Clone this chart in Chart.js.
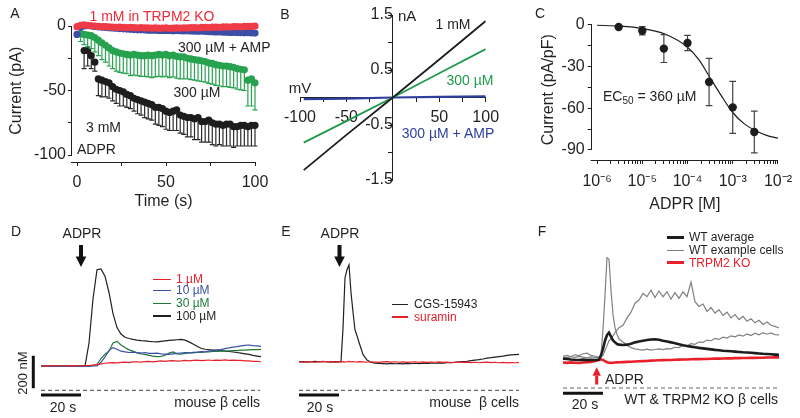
<!DOCTYPE html>
<html>
<head>
<meta charset="utf-8">
<script src="https://cdn.jsdelivr.net/npm/chart.js@4.4.1/dist/chart.umd.min.js"></script>
<style>
  body { margin: 0; background: #fff; }
  #fig { position: relative; width: 800px; height: 418px; overflow: hidden;
         font-family: 'Liberation Sans', Arial, sans-serif; color: #231f20; }
  #fig canvas { position: absolute; left: 0; top: 0; }
  .t { position: absolute; white-space: pre; line-height: 1; font-size: 14px; }
  .c { transform: translate(-50%, -50%); }
  .l { transform: translate(0, -50%); }
  .r { transform: translate(-100%, -50%); }
  .lg { font-size: 12px; }
  .sw { position: absolute; height: 1.5px; }
</style>
</head>
<body>
<div id="fig">
  <canvas id="cA" width="800" height="418"></canvas>
  <canvas id="cB" width="800" height="418"></canvas>
  <canvas id="cC" width="800" height="418"></canvas>
  <canvas id="cD" width="800" height="418"></canvas>
  <canvas id="cE" width="800" height="418"></canvas>
  <canvas id="cF" width="800" height="418"></canvas>

  <!-- panel letters -->
  <div class="t c" style="left:15px;top:13px">A</div>
  <div class="t c" style="left:285px;top:14px">B</div>
  <div class="t c" style="left:540px;top:13px">C</div>
  <div class="t c" style="left:16px;top:231px">D</div>
  <div class="t c" style="left:286px;top:231px">E</div>
  <div class="t c" style="left:542px;top:231px">F</div>

  <!-- A -->
  <div class="t c" style="left:152px;top:16px;color:#ee2a36">1 mM in TRPM2 KO</div>
  <div class="t l" style="left:178px;top:47px">300 µM + AMP</div>
  <div class="t c" style="left:197px;top:92px">300 µM</div>
  <div class="t l" style="left:86px;top:127px">3 mM</div>
  <div class="t l" style="left:77px;top:149px">ADPR</div>

  <!-- B -->
  <div class="t l" style="left:398px;top:15px;font-size:15px">nA</div>
  <div class="t c" style="left:300px;top:87px;font-size:15px">mV</div>
  <div class="t c" style="left:453px;top:24px">1 mM</div>
  <div class="t c" style="left:470px;top:80px;color:#1f9a4c">300 µM</div>
  <div class="t c" style="left:448px;top:133px;color:#2f3f9e">300 µM + AMP</div>

  <!-- C -->
  <div class="t l" style="left:603px;top:97px">EC<span style="font-size:10px;vertical-align:-3px">50</span> = 360 µM</div>

  <!-- D -->
  <div class="t c" style="left:82px;top:233px">ADPR</div>
  <div class="sw" style="left:153px;top:278.5px;width:18px;background:#e8202a"></div>
  <div class="sw" style="left:153px;top:289.5px;width:18px;background:#3a50a5"></div>
  <div class="sw" style="left:153px;top:302.5px;width:18px;background:#1e7a3c"></div>
  <div class="sw" style="left:153px;top:315px;width:18px;background:#231f20"></div>
  <div class="t l lg" style="left:176px;top:279px;color:#e8202a">1 µM</div>
  <div class="t l lg" style="left:176px;top:290px;color:#3a50a5">10 µM</div>
  <div class="t l lg" style="left:176px;top:303px;color:#1e7a3c">30 µM</div>
  <div class="t l lg" style="left:176px;top:315.5px">100 µM</div>
  <div class="t c" style="left:22px;top:373px;font-size:13px;transform:translate(-50%,-50%) rotate(-90deg)">200 nM</div>
  <div class="t c" style="left:63px;top:407px">20 s</div>
  <div class="t r" style="left:260px;top:402px">mouse β cells</div>

  <!-- E -->
  <div class="t c" style="left:340px;top:233px">ADPR</div>
  <div class="sw" style="left:392px;top:303.5px;width:16px;background:#231f20"></div>
  <div class="sw" style="left:392px;top:316px;width:16px;background:#e8202a"></div>
  <div class="t l lg" style="left:414px;top:304px">CGS-15943</div>
  <div class="t l lg" style="left:414px;top:317px;color:#e8202a">suramin</div>
  <div class="t c" style="left:320px;top:407px">20 s</div>
  <div class="t r" style="left:519px;top:402px">mouse  β cells</div>

  <!-- F -->
  <div class="sw" style="left:667px;top:235.5px;width:17px;height:3px;background:#1d1d1d"></div>
  <div class="sw" style="left:667px;top:249.5px;width:17px;background:#808080"></div>
  <div class="sw" style="left:667px;top:261px;width:17px;height:3px;background:#e8202a"></div>
  <div class="t l lg" style="left:689px;top:237px">WT average</div>
  <div class="t l lg" style="left:689px;top:250px">WT example cells</div>
  <div class="t l lg" style="left:689px;top:262.5px;color:#e8202a">TRPM2 KO</div>
  <div class="t l" style="left:605px;top:379px">ADPR</div>
  <div class="t c" style="left:585px;top:404px">20 s</div>
  <div class="t r" style="left:778px;top:399px">WT &amp; TRPM2 KO β cells</div>
</div>

<script>
// ---- A: current vs time (pA) ----
const tA = [0, 2, 4, 6, 8, 10, 12, 14, 16, 18, 20, 22, 24, 26, 28, 30, 32, 34, 36, 38,
  40, 42, 44, 46, 48, 50, 52, 54, 56, 58, 60, 62, 64, 66, 68, 70, 72, 74, 76, 78,
  80, 82, 84, 86, 88, 90, 92, 94, 96, 98, 100];
const koA = [-0.5, 0.5, 0.8, 0.5, 0.2, 0, -0.3, -0.5, -0.4, -0.7,
  -0.8, -1, -0.9, -1.1, -1.2, -1, -1.3, -1.4, -1.2, -1.5,
  -1.4, -1.6, -1.5, -1.7, -1.6, -1.5, -1.8, -1.7, -1.5, -1.6,
  -1.4, -1.5, -1.3, -1.2, -1.4, -1.1, -1, -1.2, -0.9, -0.8,
  -1, -0.7, -0.6, -0.8, -0.5, -0.4, -0.6, -0.3, -0.2, -0.3, 0];
const ampA = [-6.5, -1, 0, 0.3, 0, -0.3, -0.6, -0.8, -1, -1.3,
  -1.5, -1.7, -2, -2.2, -2.4, -2.6, -2.8, -3, -3, -3.1,
  -3.2, -3.3, -3.3, -3.4, -3.5, -3.4, -3.5, -3.6, -3.5, -3.6,
  -3.7, -3.6, -3.8, -3.9, -4, -3.9, -4.1, -4.3, -4.4, -4.6,
  -4.5, -4.7, -4.8, -5, -4.9, -5.1, -5.2, -5.3, -5.2, -5.4, -5.5];
const uM300A = [null, -6, -6.5, -7, -7.5, -9, -11, -13, -15, -17,
  -19, -20, -21, -21.5, -22, -22.5, -22, -22.5, -23, -23,
  -22.5, -23, -22.5, -22, -22.5, -22, -23, -22.5, -23.5, -24,
  -24, -25, -25.5, -26, -26.5, -27, -27.5, -28.5, -29, -30,
  -30.5, -31, -31, -31.5, -32, -33, -33.5, -34, -42, -41, -44];
const uM300ErrA = [null, 6, 8, 9, 10, 11, 12, 13, 13, 14,
  14, 15, 15, 15, 15, 16, 16, 16, 16, 16,
  17, 17, 17, 17, 17, 17, 17, 17, 17, 17,
  17, 16, 16, 16, 16, 16, 16, 16, 16, 16,
  16, 16, 16, 16, 16, 16, 16, 16, 20, 21, 21];
const mM3A = [null, null, -19, -19, -23, -28, -41, -42, -43, -44,
  -47, -49, -50, -51, -53, -54, -56, -57, -58, -59,
  -60, -61, -63, -63, -64, -66, -67, -66, -65, -69,
  -70, -71, -71, -72, -71, -74, -74, -73, -75, -76,
  -76, -77, -76, -76, -78, -78, -77, -77, -78, -77, -77];
const mM3ErrA = [null, null, 14, 12, 10, 7, 13, 13, 12, 12,
  11, 11, 12, 11, 10, 10, 10, 11, 11, 12,
  12, 12, 13, 14, 14, 14, 14, 15, 16, 14,
  14, 15, 15, 16, 17, 16, 16, 17, 17, 17,
  16, 16, 17, 17, 16, 15, 16, 16, 15, 16, 16];
const xTicksA = [0, 25, 50, 75, 100];
const yTicksA = [-100, -75, -50, -25, 0];

// ---- B: I-V (mV, nA) ----
const mvB = [-96, -50, 0, 50, 100];
const mM1B = [-1.32, -0.68, 0, 0.69, 1.39];
const uM300B = [-0.82, -0.43, 0, 0.44, 0.88];
const ampB = [-0.03, -0.02, 0, 0.01, 0.02];

// ---- C: dose response ----
const doseC = [3e-6, 1e-5, 3e-5, 1e-4, 3e-4, 1e-3, 3e-3];
const meanC = [-1.4, -4.1, -17, -13, -41, -59.3, -77];
const semC = [0, 3, 10, 5.5, 17, 18.7, 15];
const fitDoseC = [1e-6, 3.16e-6, 1e-5, 3.16e-5, 1e-4, 1.78e-4, 3.16e-4, 5.62e-4, 1e-3, 1.78e-3, 3.16e-3, 5.62e-3, 1e-2];
const fitC = [-0.2, -0.8, -2.5, -6.5, -16, -25, -38, -51, -63, -71, -76, -79.5, -81.5];
const decadesC = [-6, -5, -4, -3, -2];
const yTicksC = [-90, -75, -60, -45, -30, -15, 0];

// ---- D: Ca traces (s, nM) ----
const tD = [0, 2, 4, 6, 8, 10, 12, 14, 16, 18, 20, 22, 24, 26, 28, 30, 32, 34, 36, 38,
  40, 42, 44, 46, 48, 50, 52, 54, 56, 58, 60, 62, 64, 66, 68, 70, 72, 74, 76, 78,
  80, 82, 84, 86, 88, 90, 92, 94, 96, 98, 100, 102, 104, 106, 108, 110];
const uM1D = [150, 148, 151, 149, 152, 150, 149, 151, 150, 152, 149, 151,
  152, 155, 158, 162, 166, 168, 170, 168, 171, 173, 170, 174, 175, 173, 176, 178, 175, 178, 180, 177,
  180, 182, 179, 181, 184, 181, 183, 185, 182, 184, 186, 183, 185, 184, 187, 184, 185, 183, 184, 181,
  180, 178, 177, 175];
const uM10D = [147, 149, 146, 148, 150, 147, 149, 148, 146, 149, 148, 150, 147, 149, 150,
  172, 205, 245, 262, 252, 240, 236, 232, 234, 231, 229, 232, 227, 226, 228, 224, 222, 220, 223, 226,
  229, 231, 229, 233, 235, 237, 236, 240, 243, 246, 250, 256, 260, 265, 268, 272, 276, 278, 274, 272, 270];
const uM30D = [151, 149, 152, 150, 148, 151, 150, 149, 152, 150, 148, 151, 150, 152,
  160, 195, 222, 240, 290, 300, 278, 262, 248, 240, 230, 224, 220, 214, 210, 207, 208, 215, 228, 235,
  224, 222, 226, 229, 230, 232, 233, 235, 236, 238, 238, 240, 241, 242, 243, 244, 246, 247, 248, 249,
  250, 251];
const uM100D = [150, 148, 151, 149, 150, 152, 149, 150, 148, 151, 150, 149,
  290, 560, 740, 745, 700, 600, 470, 385, 345, 325, 318, 312, 308, 305, 303, 300, 298, 297, 300, 303,
  306, 308, 310, 312, 308, 297, 284, 270, 258, 252, 249, 247, 246, 243, 240, 238, 235, 232, 228, 224,
  220, 214, 210, 206];

// ---- E ----
const tE = [0, 2, 4, 6, 8, 10, 12, 14, 16, 18, 20, 21, 22, 23, 24, 25, 26, 27, 28, 29, 30,
  32, 34, 36, 38, 40, 42, 44, 46, 48, 50, 52, 54, 56, 58, 60, 62, 64, 66, 68, 70,
  72, 74, 76, 78, 80, 82, 84, 86, 88, 90, 92, 94, 96, 98, 100, 102, 104, 106, 108, 110];
const cgsE = [174, 176, 173, 175, 177, 174, 176, 175, 173, 176, 175,
  176, 380, 690, 740, 770, 600, 480, 370, 335, 295,
  220, 185, 172, 167, 165, 164, 162, 165, 163, 164, 162, 165, 163, 166, 164, 166, 165, 167, 166, 168,
  167, 170, 169, 172, 174, 176, 178, 182, 185, 188, 192, 197, 200, 204, 207, 210, 214, 217, 219, 221];
const suraminE = [175, 173, 176, 174, 172, 175, 177, 174, 176, 173, 175,
  174, 176, 173, 175, 177, 174, 176, 175, 173, 176,
  174, 172, 175, 173, 171, 174, 176, 173, 175, 172,
  174, 171, 173, 175, 172, 174, 171, 173, 172, 174,
  171, 173, 170, 172, 174, 171, 173, 170, 172, 169,
  171, 173, 170, 172, 169, 171, 168, 170, 169, 170];

// ---- F ----
const tF = [0, 2, 4, 6, 8, 10, 12, 14, 16, 18, 19, 20, 21, 22, 23, 24, 25, 26, 27, 28,
  30, 32, 34, 36, 38, 40, 42, 44, 46, 48, 50, 52, 54, 56, 58, 60, 62, 64, 66, 68,
  70, 72, 74, 76, 78, 80, 82, 84, 86, 88, 90, 92, 94, 96, 98, 100, 102, 104, 106, 108];
const koF = [156, 154, 157, 155, 153, 156, 158, 160, 165, 172,
  176, 172, 165, 158, 155, 154, 155, 156, 157, 158,
  159, 160, 161, 163, 164, 165, 166, 168, 169, 170, 171, 172, 172, 173, 174, 175, 175, 176, 177, 177,
  178, 178, 179, 180, 180, 181, 182, 182, 183, 183, 184, 184, 185, 185, 186, 186, 187, 187, 188, 188];
const wtAvgF = [180, 178, 175, 173, 172, 174, 171, 173, 172, 174,
  200, 240, 290, 325, 340, 315, 292, 280, 270, 266,
  264, 266, 272, 280, 285, 290, 295, 298, 299, 296, 290, 285, 280, 274, 268, 262, 258, 254, 250, 246,
  243, 240, 237, 234, 232, 229, 227, 225, 223, 221, 219, 218, 216, 214, 212, 210, 209, 207, 205, 203];
const wtCell1F = [190, 186, 192, 188, 194, 189, 185, 191, 187, 190,
  200, 360, 570, 800, 790, 600, 450, 370, 330, 300,
  282, 262, 248, 240, 236, 233, 238, 232, 236, 240, 236, 242, 240, 250, 248, 262, 258, 272, 268, 282,
  280, 294, 290, 304, 298, 312, 306, 320, 314, 326, 318, 332, 322, 336, 326, 340, 330, 338, 328, 326];
const wtCell2F = [195, 200, 192, 205, 198, 210, 214, 200, 195, 188,
  190, 200, 230, 260, 290, 300, 320, 340, 355, 370,
  385, 430, 465, 520, 540, 580, 560, 600, 555, 595, 560, 590, 545, 585, 550, 590, 560, 650, 530, 500,
  515, 470, 495, 460, 480, 445, 465, 430, 450, 420, 440, 410, 425, 400, 415, 390, 405, 385, 378, 368];

const ink = '#231f20';
const red = '#e8202a';
const pts = (xs, ys) => xs.map((x, i) => ({ x, y: ys[i] }));
const fixTicks = vals => s => { s.ticks = vals.map(v => ({ value: v })) };

Chart.defaults.font.family = "'Liberation Sans', Arial, sans-serif";
Chart.defaults.color = ink;

// detached axis lines for A and C
const axisLines = {
  id: 'axisLines',
  afterDraw (chart, args, opts) {
    const { ctx, chartArea, scales: { x, y } } = chart;
    const by = Math.round(chartArea.bottom) + 0.5;
    const lx = Math.round(chartArea.left) - 0.5;
    ctx.save();
    ctx.strokeStyle = ink;
    ctx.lineWidth = 1;
    ctx.beginPath();
    ctx.moveTo(x.getPixelForValue(opts.x[0]) - 1, by);
    ctx.lineTo(x.getPixelForValue(opts.x[1]), by);
    ctx.moveTo(lx, y.getPixelForValue(opts.y[0]));
    ctx.lineTo(lx, y.getPixelForValue(opts.y[1]));
    ctx.stroke();
    ctx.restore();
  }
};

// error bars drawn just under each dataset's points
const errorBars = {
  id: 'errorBars',
  beforeDatasetDraw (chart, args) {
    const ds = chart.data.datasets[args.index];
    if (!ds.errors) return;
    const { ctx, scales: { x, y } } = chart;
    const both = ds.errorMode === 'both';
    ctx.save();
    ctx.strokeStyle = ds.errorColor;
    ctx.lineWidth = 1.2;
    ctx.beginPath();
    ds.data.forEach((p, i) => {
      const e = ds.errors[i];
      if (p.y == null || !e) return;
      const px = x.getPixelForValue(p.x);
      const lo = y.getPixelForValue(p.y - e);
      const hi = y.getPixelForValue(both ? p.y + e : p.y);
      ctx.moveTo(px, hi);
      ctx.lineTo(px, lo);
      ctx.moveTo(px - ds.capHalf, lo);
      ctx.lineTo(px + ds.capHalf, lo);
      if (both) {
        ctx.moveTo(px - ds.capHalf, hi);
        ctx.lineTo(px + ds.capHalf, hi);
      }
    });
    ctx.stroke();
    ctx.restore();
  }
};

// zero line, scale bars and ADPR arrow for the Ca traces
const traceDecor = {
  id: 'traceDecor',
  afterDatasetsDraw (chart, args, o) {
    const { ctx, scales: { x, y } } = chart;
    const x0 = x.getPixelForValue(0);
    const y0 = y.getPixelForValue(0);
    ctx.save();
    ctx.strokeStyle = '#666';
    ctx.lineWidth = 1.2;
    ctx.setLineDash([4, 3]);
    ctx.beginPath();
    ctx.moveTo(x0, y0);
    ctx.lineTo(x.getPixelForValue(o.end), y0);
    ctx.stroke();
    ctx.setLineDash([]);

    ctx.strokeStyle = '#111';
    ctx.lineWidth = 3;
    ctx.beginPath();
    ctx.moveTo(x0, y0 + o.barGap);
    ctx.lineTo(x.getPixelForValue(o.seconds), y0 + o.barGap);
    if (o.nM) {
      ctx.moveTo(x0 - o.concGap, y.getPixelForValue(o.nMFrom));
      ctx.lineTo(x0 - o.concGap, y.getPixelForValue(o.nMFrom + o.nM));
    }
    ctx.stroke();

    const a = o.arrow;
    const ax = x.getPixelForValue(a.t);
    const dir = Math.sign(a.tip - a.tail);
    const neck = a.tip - dir * a.head;
    ctx.fillStyle = a.color;
    ctx.fillRect(ax - a.shaft / 2, Math.min(a.tail, neck), a.shaft, Math.abs(neck - a.tail) + 0.5);
    ctx.beginPath();
    ctx.moveTo(ax - a.half, neck);
    ctx.lineTo(ax + a.half, neck);
    ctx.lineTo(ax, a.tip);
    ctx.closePath();
    ctx.fill();
    ctx.restore();
  }
};

const baseOpts = { responsive: false, animation: false, events: [], devicePixelRatio: 1 };
const quiet = { legend: { display: false }, tooltip: { enabled: false } };
const tickGrid = { drawOnChartArea: false, color: ink, tickLength: 4, lineWidth: 1 };

// ---------- A ----------
new Chart(document.getElementById('cA'), {
  type: 'scatter',
  data: {
    datasets: [
      { data: pts(tA, koA), backgroundColor: '#ef3b47', borderWidth: 0, pointRadius: 3.6, clip: false },
      { data: pts(tA, ampA), backgroundColor: '#3c4ea6', borderWidth: 0, pointRadius: 3.6, clip: false },
      { data: pts(tA, uM300A), backgroundColor: '#27a24f', borderWidth: 0, pointRadius: 3.6, clip: false,
        errors: uM300ErrA, errorColor: '#27a24f', capHalf: 2.5 },
      { data: pts(tA, mM3A), backgroundColor: '#1d1d1d', borderWidth: 0, pointRadius: 3.6, clip: false,
        errors: mM3ErrA, errorColor: '#2a2a2a', capHalf: 2.5 }
    ]
  },
  options: {
    ...baseOpts,
    layout: { padding: { left: 7, right: 545, top: 19.55, bottom: 207 } },
    scales: {
      x: {
        type: 'linear', min: -2.81, max: 100, bounds: 'data',
        afterBuildTicks: fixTicks(xTicksA),
        afterFit: s => { s.height = 49 },
        border: { display: false },
        grid: tickGrid,
        ticks: { autoSkip: false, maxRotation: 0, padding: 7,
          font: { size: 16 }, callback: v => v % 50 === 0 ? String(v) : '' },
        title: { display: true, text: 'Time (s)', padding: 0, font: { size: 16 } }
      },
      y: {
        type: 'linear', min: -105.4, max: 5, bounds: 'data',
        afterBuildTicks: fixTicks(yTicksA),
        afterFit: s => { s.width = 65 },
        border: { display: false },
        grid: tickGrid,
        ticks: { autoSkip: false, padding: 2,
          font: { size: 16 }, callback: v => v % 50 === 0 ? String(v) : '' },
        title: { display: true, text: 'Current (pA)', padding: 0, font: { size: 16 } }
      }
    },
    plugins: { ...quiet, axisLines: { x: [-2.81, 100], y: [0, -100] } }
  },
  plugins: [axisLines, errorBars]
});

// ---------- B ----------
new Chart(document.getElementById('cB'), {
  type: 'scatter',
  data: {
    datasets: [
      { data: pts(mvB, mM1B), showLine: true, borderColor: '#1d1d1d', borderWidth: 1.8, pointRadius: 0 },
      { data: pts(mvB, uM300B), showLine: true, borderColor: '#1f9a4c', borderWidth: 1.8, pointRadius: 0 },
      { data: pts(mvB, ampB), showLine: true, borderColor: '#2f3f9e', borderWidth: 2.2, pointRadius: 0 }
    ]
  },
  options: {
    ...baseOpts,
    layout: { padding: { left: 300, right: 314.3, top: 15, bottom: 238 } },
    scales: {
      x: {
        type: 'linear', position: { y: 0 }, min: -100, max: 100, bounds: 'data',
        border: { color: ink, width: 1 },
        grid: tickGrid,
        ticks: { stepSize: 25, autoSkip: false, maxRotation: 0, padding: 6, font: { size: 16 },
          callback: v => (v !== 0 && v % 50 === 0) ? String(v) : '' }
      },
      y: {
        type: 'linear', position: { x: 0 }, min: -1.5, max: 1.5, bounds: 'data',
        border: { color: ink, width: 1 },
        grid: tickGrid,
        ticks: { stepSize: 0.5, autoSkip: false, padding: 5, font: { size: 16 },
          callback: v => Math.abs(v % 1) === 0.5 ? String(v) : '' }
      }
    },
    plugins: quiet
  }
});

// ---------- C ----------
const supDigits = { '-': '⁻', 0: '⁰', 1: '¹', 2: '²', 3: '³', 4: '⁴', 5: '⁵', 6: '⁶', 7: '⁷', 8: '⁸', 9: '⁹' };
const tickValsC = [];
decadesC.forEach(e => {
  for (let m = 1; m <= 9; m++) {
    if (e < -2 || m === 1) tickValsC.push(m * Math.pow(10, e));
  }
});
const decadeLabel = v => {
  const e = Math.log10(v);
  if (Math.abs(e - Math.round(e)) > 1e-6) return '';
  return '10' + String(Math.round(e)).split('').map(ch => supDigits[ch]).join('');
};

new Chart(document.getElementById('cC'), {
  type: 'scatter',
  data: {
    datasets: [
      { data: pts(doseC, meanC), backgroundColor: '#1d1d1d', borderWidth: 0, pointRadius: 4.2, clip: false,
        errors: semC, errorMode: 'both', errorColor: '#444', capHalf: 3.3 },
      { data: pts(fitDoseC, fitC), showLine: true, borderColor: '#1d1d1d', borderWidth: 1.2, pointRadius: 0,
        cubicInterpolationMode: 'monotone', clip: false }
    ]
  },
  options: {
    ...baseOpts,
    layout: { padding: { left: 538.7, right: 16.7, top: 19.44, bottom: 203.4 } },
    scales: {
      x: {
        type: 'logarithmic', min: 7.6e-7, max: 1e-2, bounds: 'data',
        afterBuildTicks: fixTicks(tickValsC),
        afterFit: s => { s.height = 54.6 },
        border: { display: false },
        grid: tickGrid,
        ticks: { autoSkip: false, maxRotation: 0, padding: 8, font: { size: 16 }, callback: decadeLabel },
        title: { display: true, text: 'ADPR [M]', padding: 0, font: { size: 16 } }
      },
      y: {
        type: 'linear', min: -97.2, max: 4, bounds: 'data',
        afterBuildTicks: fixTicks(yTicksC),
        afterFit: s => { s.width = 53 },
        border: { display: false },
        grid: tickGrid,
        ticks: { autoSkip: false, padding: 3, font: { size: 16 },
          callback: v => v % 30 === 0 ? String(v) : '' },
        title: { display: true, text: 'Current (pA/pF)', padding: 0, font: { size: 16 } }
      }
    },
    plugins: { ...quiet, axisLines: { x: [7.6e-7, 1e-2], y: [0, -90] } }
  },
  plugins: [axisLines, errorBars]
});

// ---------- D, E, F: Ca traces ----------
const traceScales = (xmin, xmax) => ({
  x: { type: 'linear', display: false, min: xmin, max: xmax, bounds: 'data' },
  y: { type: 'linear', display: false, min: -40, max: 850, bounds: 'data' }
});
const trace = (xs, ys, color, width) => ({
  data: pts(xs, ys), showLine: true, borderColor: color, borderWidth: width, pointRadius: 0
});

new Chart(document.getElementById('cD'), {
  type: 'scatter',
  data: {
    datasets: [
      trace(tD, uM1D, red, 1.2),
      trace(tD, uM10D, '#3a50a5', 1.2),
      trace(tD, uM30D, '#1e7a3c', 1.2),
      trace(tD, uM100D, ink, 1.2)
    ]
  },
  options: {
    ...baseOpts,
    layout: { padding: { left: 31, right: 539, top: 251.75, bottom: 21.18 } },
    scales: traceScales(-5, 110),
    plugins: { ...quiet, traceDecor: { end: 109.5, seconds: 20, barGap: 4.7, nM: 200, nMFrom: 12, concGap: 7.7,
      arrow: { t: 20, tail: 245, tip: 267, head: 10.5, half: 5.3, shaft: 4, color: '#111' } } }
  },
  plugins: [traceDecor]
});

new Chart(document.getElementById('cE'), {
  type: 'scatter',
  data: {
    datasets: [
      trace(tE, suraminE, red, 1.2),
      trace(tE, cgsE, ink, 1.2)
    ]
  },
  options: {
    ...baseOpts,
    layout: { padding: { left: 289, right: 281, top: 251.75, bottom: 21.18 } },
    scales: traceScales(-5, 110),
    plugins: { ...quiet, traceDecor: { end: 110, seconds: 20, barGap: 4.7,
      arrow: { t: 20.25, tail: 245, tip: 267, head: 10.5, half: 5.3, shaft: 4, color: '#111' } } }
  },
  plugins: [traceDecor]
});

new Chart(document.getElementById('cF'), {
  type: 'scatter',
  data: {
    datasets: [
      trace(tF, wtAvgF, '#1d1d1d', 2.6),
      trace(tF, koF, red, 2.6),
      trace(tF, wtCell2F, '#808080', 1.2),
      trace(tF, wtCell1F, '#808080', 1.2)
    ]
  },
  options: {
    ...baseOpts,
    layout: { padding: { left: 553, right: 20, top: 249.45, bottom: 23.48 } },
    scales: traceScales(-5, 108.5),
    plugins: { ...quiet, traceDecor: { end: 108.5, seconds: 20, barGap: 5.3,
      arrow: { t: 16.85, tail: 384, tip: 367.3, head: 8.5, half: 4.2, shaft: 3, color: red } } }
  },
  plugins: [traceDecor]
});
</script>
</body>
</html>
